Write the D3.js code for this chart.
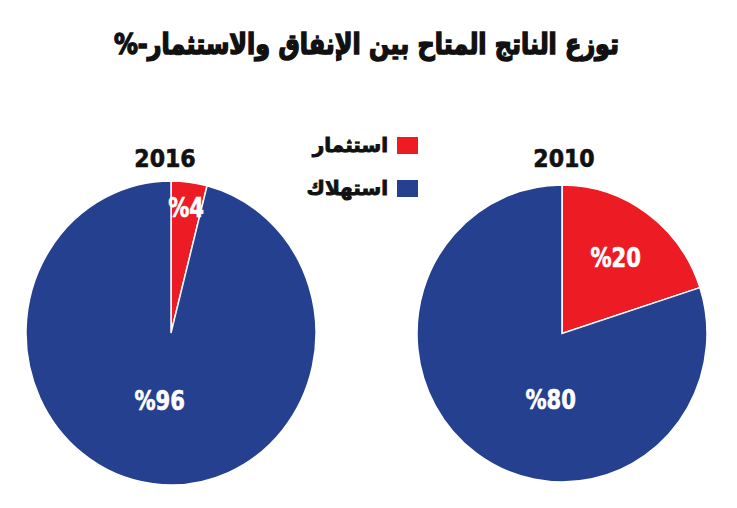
<!DOCTYPE html>
<html>
    <head>
        <meta charset="utf-8">
        <script src="https://cdn.jsdelivr.net/npm/d3@7/dist/d3.min.js" type="text/javascript"></script>
        <style>
            body { margin: 0; background: #fff; }
        </style>
    </head>
    <body>
    </body>
    <script>
        var width = 737;
        var height = 508;

        // data
        var years = ["2016", "2010"];
        var categories = ["استثمار", "استهلاك"];
        var invest = [4, 20];
        var consume = [96, 80];
        var title = "توزع الناتج المتاح بين الإنفاق والاستثمار-%";

        var colors = ["#ED1C24", "#25408F"];
        var arabicFont = "'DejaVu Sans', sans-serif";
        var numFont = "'DejaVu Sans Condensed', 'DejaVu Sans', sans-serif";

        // layout of the two pies (left, right)
        var pieX = [171, 562];
        var pieY = [333, 333.5];
        var radX = [145, 145];
        var radY = [152, 148.5];
        var smallLabelR = [0.83, 0.63]; // fraction of radius for the small slice label

        var svg = d3.select("body").append("svg")
                    .attr("width", width)
                    .attr("height", height);

        var color = d3.scaleOrdinal().domain(categories).range(colors);

        // title, fitted to the width it takes in the picture
        var t = svg.append("text")
                    .attr("transform", "translate(366.5,54) scale(1,1.2)")
                    .attr("text-anchor", "middle")
                    .attr("direction", "rtl")
                    .attr("font-family", arabicFont)
                    .attr("font-weight", "bold")
                    .attr("font-size", 26)
                    .attr("fill", "#111")
                    .attr("stroke", "#111")
                    .attr("stroke-width", 1.3)
                    .text(title);
        var tl = t.node().getComputedTextLength();
        t.attr("font-size", 26 * 505 / tl);

        var pie = d3.pie().sort(null).value(function(d){ return d.value; });

        years.forEach(function(year, i){
            var data = [
                {cat: categories[0], value: invest[i]},
                {cat: categories[1], value: consume[i]}
            ];
            var arcs = pie(data);
            var r = radX[i];
            var arc = d3.arc().innerRadius(0).outerRadius(r);

            var g = svg.append("g")
                       .attr("transform", "translate(" + pieX[i] + "," + pieY[i] + ") scale(1," + (radY[i] / radX[i]) + ")");

            g.selectAll("path")
                .data(arcs)
                .enter().append("path")
                .attr("d", arc)
                .attr("fill", function(d){ return color(d.data.cat); })
                .attr("stroke", "#fff")
                .attr("stroke-width", 1.5)
                .attr("vector-effect", "non-scaling-stroke");

            // labels
            g.selectAll("text.pct")
                .data(arcs)
                .enter().append("text")
                .attr("class", "pct")
                .attr("transform", function(d, k){
                    var a, rr;
                    if (k == 0) {
                        a = (d.startAngle + d.endAngle) / 2;
                        rr = r * smallLabelR[i];
                    } else {
                        a = Math.PI * 190 / 180;
                        rr = r * 0.45;
                    }
                    var x = Math.sin(a) * rr;
                    var y = -Math.cos(a) * rr;
                    return "translate(" + x + "," + y + ") scale(0.9," + (radX[i] / radY[i]) + ")";
                })
                .attr("dy", "0.36em")
                .attr("text-anchor", "middle")
                .attr("font-family", numFont)
                .attr("font-weight", "bold")
                .attr("font-size", 26)
                .attr("fill", "#fff")
                .attr("stroke", "#fff")
                .attr("stroke-width", 0.6)
                .text(function(d){ return "%" + d.data.value; });

            svg.append("text")
                .attr("x", pieX[i] - (i == 0 ? 6 : -2))
                .attr("y", 167)
                .attr("text-anchor", "middle")
                .attr("font-family", numFont)
                .attr("font-weight", "bold")
                .attr("font-size", 24.5)
                .attr("fill", "#111")
                .attr("stroke", "#111")
                .attr("stroke-width", 0.6)
                .text(year);
        });

        // legend
        var legend = svg.selectAll("g.legend")
                        .data(categories)
                        .enter().append("g")
                        .attr("class", "legend")
                        .attr("transform", function(d, k){ return "translate(397," + (137 + k * 43) + ")"; });

        legend.append("rect")
            .attr("width", 21)
            .attr("height", 17)
            .attr("fill", function(d){ return color(d); });

        legend.append("text")
            .attr("x", -9)
            .attr("y", 15)
            .attr("text-anchor", "end")
            .attr("font-family", arabicFont)
            .attr("font-weight", "bold")
            .attr("font-size", 20)
            .attr("fill", "#111")
            .attr("stroke", "#111")
            .attr("stroke-width", 0.9)
            .text(function(d){ return d; });
    </script>
</html>
